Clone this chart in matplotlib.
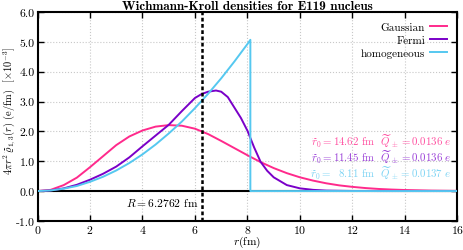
import numpy as np
from matplotlib import pyplot as plt
from matplotlib.ticker import FormatStrFormatter

plt.rcParams['font.family'] = 'serif'
plt.rcParams['font.serif'] = ['cmr10']
plt.rcParams['mathtext.fontset'] = 'cm'
plt.rcParams['axes.formatter.use_mathtext'] = True
plt.rcParams['axes.unicode_minus'] = True

# values, in units of 1e-3 e/fm
r_gauss = [0, 0.5, 1, 1.5, 2, 2.5, 3, 3.5, 4, 4.5, 5, 5.5, 6, 6.5, 7, 7.5, 8,
           8.5, 9, 9.5, 10, 10.5, 11, 11.5, 12, 12.5, 13, 13.5, 14, 15, 16]
gauss = [0, 0.04, 0.2, 0.45, 0.8, 1.17, 1.54, 1.83, 2.03, 2.16, 2.21, 2.19,
         2.09, 1.91, 1.68, 1.44, 1.2, 0.97, 0.77, 0.6, 0.46, 0.35, 0.26, 0.19,
         0.14, 0.1, 0.07, 0.05, 0.035, 0.015, 0.006]

r_fermi = [0, 0.5, 1, 1.5, 2, 2.5, 3, 3.5, 4, 4.5, 5, 5.5, 6, 6.25, 6.5, 6.8,
           7, 7.25, 7.5, 7.75, 8, 8.25, 8.5, 8.75, 9, 9.5, 10, 10.5, 11, 12, 13, 16]
fermi = [0, 0.02, 0.09, 0.21, 0.38, 0.58, 0.82, 1.13, 1.5, 1.86, 2.22, 2.68,
         3.12, 3.25, 3.33, 3.37, 3.33, 3.15, 2.8, 2.45, 2.02, 1.47, 0.98, 0.68,
         0.46, 0.2, 0.09, 0.04, 0.015, 0.003, 0, 0]

r_homog = [0, 0.5, 1, 1.5, 2, 2.5, 3, 3.5, 4, 4.5, 5, 5.5, 6, 6.5, 7, 7.5, 8,
           8.11, 8.11, 16]
homog = [0, 0.02, 0.08, 0.17, 0.31, 0.48, 0.69, 0.94, 1.23, 1.56, 1.93, 2.33,
         2.78, 3.26, 3.78, 4.34, 4.93, 5.07, 0, 0]

R_nucleus = 6.2762
notes = [r'$\widetilde{r}_0 = 14.62$ fm  $\widetilde{Q}_\pm = 0.0136\ e$',
         r'$\widetilde{r}_0 = 11.45$ fm  $\widetilde{Q}_\pm = 0.0136\ e$',
         r'$\widetilde{r}_0 =\ \ 8.11$ fm  $\widetilde{Q}_\pm = 0.0137\ e$']
note_y = [1.70, 1.17, 0.64]

c_gauss = '#ff2a8c'
c_fermi = '#7a00c8'
c_homog = '#55c8f0'
c_notes = ['#ff4fa0', '#9a3fd8', '#7fd4f4']

fig = plt.figure(figsize=(4.63, 2.51), dpi=100)
ax = fig.add_axes([0.081, 0.116, 0.907, 0.832])

ax.axhline(0, color='black', lw=1.5, zorder=2)
ax.plot(r_gauss, gauss, color=c_gauss, lw=1.4, label='Gaussian', zorder=3)
ax.plot(r_fermi, fermi, color=c_fermi, lw=1.4, label='Fermi', zorder=3)
ax.plot(r_homog, homog, color=c_homog, lw=1.4, label='homogeneous', zorder=3)
ax.axvline(R_nucleus, color='black', lw=1.8, dashes=(1.5, 1.0), zorder=4)
ax.text(R_nucleus - 0.15, -0.37, r'$R = 6.2762$ fm', ha='right', va='center', fontsize=8.3)

for txt, yv, col in zip(notes, note_y, c_notes):
    ax.text(15.75, yv, txt, color=col, ha='right', va='center', fontsize=7.8)

ax.set_xlim(0, 16)
ax.set_ylim(-1, 6)
ax.set_xticks(np.arange(0, 17, 2))
ax.set_yticks(np.arange(-1, 7, 1))
ax.yaxis.set_major_formatter(FormatStrFormatter('%.1f'))
ax.tick_params(direction='in', top=True, right=True, labelsize=8.5, length=4,
               width=1, pad=2)
ax.tick_params(axis='x', pad=1.5)
for sp in ax.spines.values():
    sp.set_linewidth(1.5)
ax.grid(True, color='#c8c8c8', ls=':', lw=0.8)

ax.set_xlabel(r'$r$(fm)', fontsize=8.3, labelpad=-1)
ax.set_ylabel(r'$4\pi r^2\,\widetilde{\varrho}_{1,3}(r)$ (e/fm)  $[\times 10^{-3}]$', fontsize=7.5)
ax.yaxis.set_label_coords(-0.05, 0.53)
ax.set_title('Wichmann-Kroll densities for E119 nucleus', fontsize=9.5,
             fontfamily='cmb10', pad=2)
ax.legend(loc='upper right', frameon=False, markerfirst=False, fontsize=8,
          handlelength=1.6, handletextpad=0.4, labelspacing=0.3,
          borderaxespad=0.5)

plt.savefig('out.png', dpi=100)
